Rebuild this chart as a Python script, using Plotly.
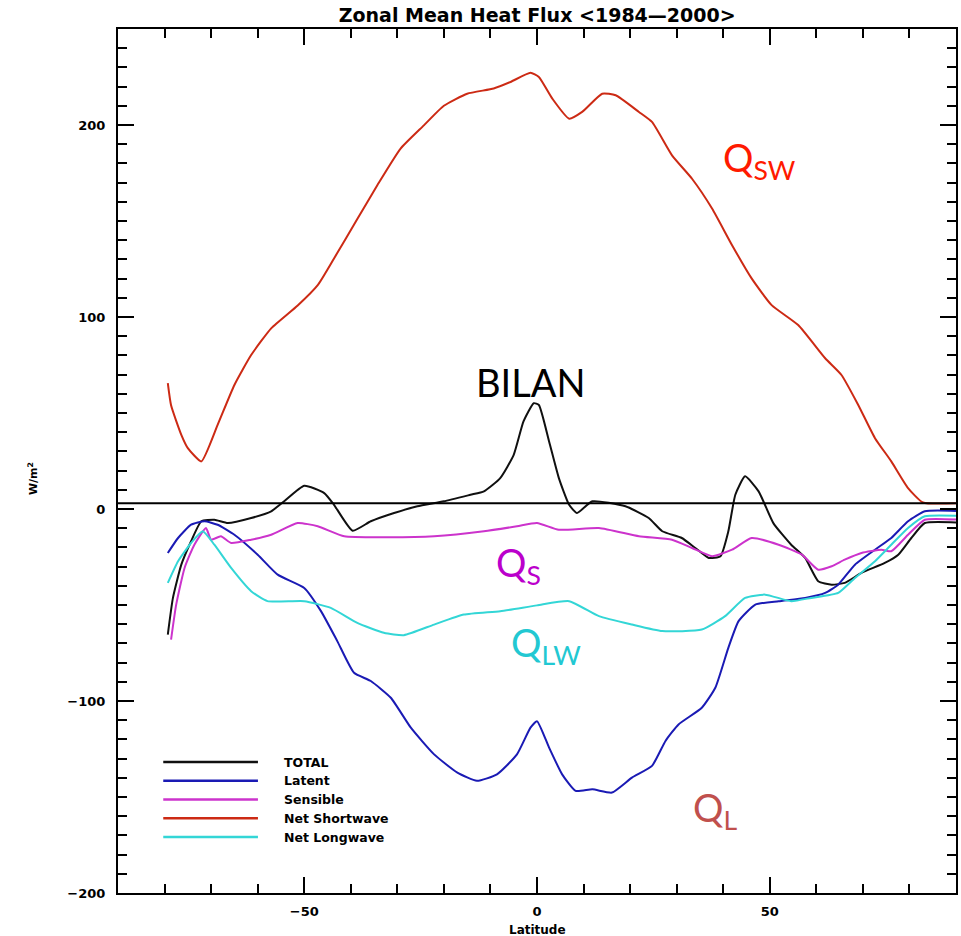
import plotly.graph_objects as go

# ---------------- data ----------------
series_names = ["TOTAL", "Latent", "Sensible", "Net Shortwave", "Net Longwave"]
series_colors = ["#101010", "#1a1ab4", "#cc33cc", "#cc2a14", "#33d6d6"]

lat_total = [-79.3, -78.2, -76.4, -74.3, -72.1, -69.3, -66.4, -61.4, -57.1, -54.3, -50, -45.7, -43.6,
             -39.6, -35.7, -30.7, -25.7, -20, -14.3, -11.4, -7.9, -5, -2.9, -0.7, 0.4, 2.6, 4.7, 6.9,
             8.6, 11.9, 19, 24, 26.9, 31.1, 34, 36.9, 39.4, 41.1, 42.6, 44.7, 47.6, 50.8, 54.6, 57.6,
             60.4, 63.3, 66.1, 69.7, 74.7, 77.6, 80.4, 83.3, 90]
total = [-65.4, -46.3, -29, -16.8, -6.4, -5.6, -7.3, -4.7, -1.2, 4, 12.1, 8.3, 2.2,
         -11.3, -6.4, -2.1, 1.4, 4, 7.4, 9.2, 16.1, 28.2, 45.6, 55.1, 54.2, 35.2, 16.1, 2.2,
         -2.1, 4, 1.4, -4.7, -11.6, -15.1, -20.3, -25.5, -24.6, -11.6, 7.4, 17, 9.2, -7.5, -18.6, -25.5,
         -37.6, -39.4, -38.5, -33.3, -28.1, -23.8, -15.1, -7.3, -7]

lat_latent = [-79.3, -77.1, -74.3, -71.4, -68.6, -65, -60, -55.7, -50, -46.4, -42.9, -39.3, -35.7,
              -31.4, -27.1, -22.1, -17.1, -12.9, -8.6, -4.3, -1.4, 0, 2.6, 5.4, 8.3, 11.9, 16.1,
              20.4, 24.7, 27.6, 30.4, 35.4, 38.3, 41.1, 43.3, 46.9, 51.9, 57.6, 61.9, 64.7, 68.3,
              72.6, 76.1, 79.7, 83.3, 90]
latent = [-22.9, -15.1, -8.2, -6.4, -8.2, -13.4, -23.8, -34.2, -41.1, -53.2, -68.8, -85.3, -89.6,
          -98.3, -113.9, -127.8, -137.3, -141.6, -138.2, -127.8, -113.9, -110.5, -124.3, -138.2,
          -146.8, -146, -147.7, -139.9, -133.8, -120.8, -112.2, -103.5, -93.1, -72.3, -58.4, -49.8,
          -48, -46.3, -43.7, -39.4, -29, -21.2, -15.1, -6.4, -1.2, -1]

lat_sensible = [-78.6, -77.5, -75.7, -73.6, -71.1, -70, -67.9, -65.7, -61.4, -57.1, -51.4, -47.1,
                -41.4, -32.8, -22.1, -11.4, -4.3, 0, 4.7, 13.3, 21.9, 29, 33.3, 37.6, 41.9, 46.1,
                51.9, 56.9, 60.4, 63.3, 66.1, 69.7, 74, 76.1, 79.7, 83.3, 90]
sensible = [-68, -49.8, -30.7, -18.6, -9.9, -16, -14.2, -17.7, -16, -13.4, -7.3, -9,
            -14.2, -14.7, -14.2, -11.6, -9, -7.3, -10.8, -9.9, -14.2, -16, -20.3, -24.6, -21.2, -15.1,
            -18.6, -23.8, -31.6, -29.8, -26.4, -22.9, -21.2, -22, -13.4, -5.6, -5.5]

lat_shortwave = [-79.3, -78.6, -76.4, -75, -72.1, -68.6, -65, -61.4, -57.1, -51.4, -47.1, -43.6,
                 -38.6, -34.3, -29.3, -24.3, -20, -15, -9.3, -5.7, -1.4, 0.4, 3.3, 6.9, 9.7, 14,
                 16.9, 21.9, 24.7, 29, 33.3, 37.6, 41.9, 46.1, 50.4, 56.1, 61.9, 65.4, 69, 72.6,
                 76.1, 79.7, 82.9, 90]
shortwave = [65.5, 54, 38.6, 31.7, 24.8, 43.8, 64.6, 80.2, 94.1, 106, 116.6, 130.5,
             151, 168.6, 187.7, 199.8, 210, 216.3, 219, 222.4, 227.2, 225, 213.7, 203.3, 206.8, 216.3,
             215.5, 206.8, 201.6, 184.2, 172, 156.5, 137.4, 120.1, 106.2, 95.8, 78.5, 69.8, 54.2, 36.9,
             24.8, 10.9, 3.4, 3.0]

lat_longwave = [-79.3, -77.1, -74.3, -71.8, -69.3, -65.7, -61.4, -57.9, -50, -44.3, -38.6, -32.9,
                -28.6, -22.1, -15.7, -7.9, 0, 6.9, 13.3, 20.4, 26.9, 35.4, 40.4, 44.7, 49, 54.6,
                58.9, 64.7, 68.3, 72.6, 76.1, 79.7, 83.3, 90]
longwave = [-38.5, -27.2, -17.7, -11.6, -18.6, -30.7, -42.8, -48, -48, -51.5, -59.3, -64.5,
            -65.7, -60.2, -55, -53.2, -50.2, -48, -55.8, -60.2, -63.6, -62.8, -55.8, -46.3, -44.6, -48,
            -46.3, -43.7, -35.9, -27.2, -18.6, -9.9, -3.8, -3.5]

ref_level = 3.0  # horizontal reference line

series_lat = [lat_total, lat_latent, lat_sensible, lat_shortwave, lat_longwave]
series_val = [total, latent, sensible, shortwave, longwave]

# annotation labels: (text, lat, value, color, anchor)
labels = [
    ("Q<sub>SW</sub>", 39.5, 182, "#ff1a00", "left"),
    ("BILAN", -1.3, 66, "#000000", "center"),
    ("Q<sub>S</sub>", -9.3, -29, "#bb00cc", "left"),
    ("Q<sub>LW</sub>", -6.1, -71, "#22c8d2", "left"),
    ("Q<sub>L</sub>", 33.0, -157, "#c0504d", "left"),
]

# ---------------- figure ----------------
fig = go.Figure()
for name, la, va, col in zip(series_names, series_lat, series_val, series_colors):
    fig.add_trace(go.Scatter(x=la, y=va, mode="lines", name=name,
                             line=dict(color=col, width=2, shape="spline", smoothing=0.5),
                             showlegend=False))

fig.add_shape(type="line", xref="paper", x0=0, x1=1, yref="y", y0=ref_level, y1=ref_level,
              line=dict(color="black", width=2))

tickfont = dict(family="DejaVu Sans", size=13, color="black", weight="bold")
axis_common = dict(showgrid=False, zeroline=False, showline=True, linecolor="black", linewidth=2,
                   mirror="allticks", ticks="inside", ticklen=16, tickwidth=2, tickcolor="black",
                   tickfont=tickfont)

fig.update_xaxes(range=[-90, 90], tick0=0, dtick=50, ticklabelstandoff=5,
                 minor=dict(dtick=10, ticklen=9, tickwidth=1.5, ticks="inside", tickcolor="black"),
                 **axis_common)
fig.update_yaxes(range=[-200, 250], tick0=0, dtick=100, ticklabelstandoff=8,
                 minor=dict(dtick=10, ticklen=9, tickwidth=1.5, ticks="inside", tickcolor="black"),
                 **axis_common)

# text labels on the plot
for txt, la, va, col, anc in labels:
    fig.add_annotation(x=la, y=va, xref="x", yref="y", text=txt, showarrow=False,
                       xanchor=anc, yanchor="middle",
                       font=dict(family="Lato", size=38, color=col))

# axis titles
fig.add_annotation(x=0, y=-0.0425, xref="x", yref="paper", text="Latitude", showarrow=False,
                   yanchor="middle", font=dict(family="DejaVu Sans", size=12, color="black", weight="bold"))
fig.add_annotation(x=-0.113, y=0.48, xref="paper", yref="paper", text="W/m<sup>2</sup>",
                   showarrow=False, textangle=-90,
                   font=dict(family="DejaVu Sans", size=11, color="black", weight="bold"))

# custom legend (long line samples, as in the original)
for i, (name, col) in enumerate(zip(series_names, series_colors)):
    py = 762 + i * 18.75
    yp = (893 - py) / 864
    fig.add_shape(type="line", xref="paper", yref="paper", x0=0.054, x1=0.167, y0=yp, y1=yp,
                  line=dict(color=col, width=2.5))
    fig.add_annotation(x=0.196, y=yp, xref="paper", yref="paper", text=name, showarrow=False,
                       xanchor="left", yanchor="middle",
                       font=dict(family="DejaVu Sans", size=12.5, color="black", weight="bold"))

fig.update_layout(
    width=961, height=936,
    margin=dict(l=118, r=3, t=29, b=43),
    paper_bgcolor="white", plot_bgcolor="white",
    title=dict(text="Zonal Mean Heat Flux &lt;1984\u20142000&gt;", x=0.559, xanchor="center",
               y=1 - 15 / 936, yanchor="middle",
               font=dict(family="DejaVu Sans", size=19, color="black", weight="bold")),
    showlegend=False,
)

fig.write_html("out.html")
